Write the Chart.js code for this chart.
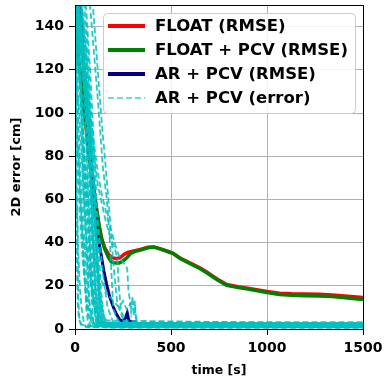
<!DOCTYPE html>
<html lang="en">
<head>
<meta charset="UTF-8">
<title>2D error over time</title>
<script src="https://cdn.jsdelivr.net/npm/chart.js"></script>
<style>
  html, body { margin: 0; padding: 0; background: #fff; }
  #wrap { width: 387px; height: 383px; }
</style>
</head>
<body>
<div id="wrap"><canvas id="errChart"></canvas></div>
<script>
// --- data (time in s, error in cm) ---
const floatT = [5, 16, 26, 40, 55, 70, 85, 100, 113, 125, 138, 155, 175, 195, 215, 235, 255, 275, 300, 340, 380, 410, 440, 480, 510, 545, 600, 650, 686, 740, 790, 850, 900, 1000, 1065, 1130, 1200, 1270, 1340, 1420, 1500];
const floatY = [160, 126, 120, 108, 96, 84, 73, 63, 55, 48, 42, 37.5, 34.5, 33, 32.5, 33, 34.5, 35.5, 36, 36.8, 37.8, 38, 37.2, 36, 35, 33, 30.5, 28.3, 26.4, 23.2, 20.6, 19.6, 18.9, 17.4, 16.6, 16.3, 16.2, 16.1, 15.8, 15.2, 14.6];

const floatPcvT = [5, 16, 26, 40, 55, 70, 85, 100, 113, 125, 138, 155, 175, 190, 210, 230, 250, 270, 290, 310, 340, 380, 410, 440, 480, 510, 545, 600, 650, 686, 740, 790, 850, 900, 1000, 1065, 1130, 1200, 1270, 1340, 1420, 1500];
const floatPcvY = [160, 126, 120, 108, 96, 84, 73, 63, 55, 48, 42, 37, 33, 31, 30.5, 30.5, 31.5, 33, 35, 35.8, 36.5, 37.6, 38, 37.2, 36, 35, 32.8, 30.2, 28, 26, 22.8, 20.2, 19.2, 18.5, 16.9, 16, 15.6, 15.4, 15.3, 15, 14.4, 13.6];

const arPcvT = [20, 35, 50, 61, 68, 80, 100, 113, 125, 138, 150, 164, 180, 199, 215, 234, 250, 262, 272, 280, 290, 305, 320];
const arPcvY = [160, 138, 115, 102, 96, 80, 58, 46, 40, 33.5, 27, 21, 15, 10.3, 7, 4.2, 3.5, 5, 7.5, 4, 3.4, 3.5, 3.4];

// individual runs, AR + PCV error
const run01T = [0, 5, 10, 14, 18, 24, 35, 60, 120, 300, 700, 1100, 1500];
const run01Y = [170, 120, 70, 35, 12, 4, 2, 1.5, 1.2, 1, 1.1, 1, 1];
const run02T = [0, 8, 15, 22, 30, 38, 45, 55, 70, 100, 300, 800, 1500];
const run02Y = [165, 150, 138, 125, 110, 85, 55, 30, 10, 2.5, 2, 2.2, 2];
const run03T = [0, 10, 20, 30, 40, 50, 60, 70, 80, 90, 110, 200, 600, 1500];
const run03Y = [175, 152, 140, 128, 118, 100, 82, 60, 35, 15, 3, 0.8, 0.7, 0.6];
const run04T = [0, 12, 25, 35, 48, 58, 68, 78, 90, 105, 130, 400, 1500];
const run04Y = [170, 158, 145, 136, 125, 110, 95, 72, 45, 20, 1.5, 1.3, 1.5];
const run05T = [0, 30, 55, 78, 95, 120, 145, 166, 182, 192, 200, 230, 500, 1500];
const run05Y = [200, 180, 165, 150, 132, 105, 75, 60, 40, 22, 9, 3, 3.2, 3.2];
const run06T = [0, 40, 70, 93, 110, 125, 140, 155, 170, 185, 200, 220, 260, 1500];
const run06Y = [210, 185, 165, 150, 130, 112, 95, 80, 64, 48, 30, 12, 2, 2.5];
const run07T = [0, 15, 30, 45, 60, 75, 90, 105, 120, 140, 160, 185, 205, 220, 228, 240, 280, 1500];
const run07Y = [160, 150, 140, 128, 112, 100, 88, 76, 66, 58, 50, 42, 38, 33, 20, 8, 1.8, 1.8];
const run08T = [0, 20, 40, 60, 80, 100, 120, 140, 160, 180, 200, 220, 240, 258, 272, 278, 285, 292, 300, 306, 312, 318, 325, 340, 1500];
const run08Y = [155, 140, 128, 115, 100, 85, 72, 62, 55, 48, 42, 36, 32, 30, 28, 18, 14, 8, 15, 6, 13, 5, 3, 1.5, 1.4];
const run09T = [0, 10, 22, 34, 46, 56, 66, 76, 86, 96, 108, 125, 150, 170, 190, 210, 230, 250, 270, 290, 310, 320, 330, 1500];
const run09Y = [155, 140, 120, 100, 88, 72, 60, 52, 45, 38, 30, 25, 20, 16, 14, 12, 10, 13, 9, 12, 10, 4, 2.2, 2.2];
const run10T = [0, 6, 12, 20, 28, 38, 50, 65, 80, 100, 130, 170, 210, 1500];
const run10Y = [160, 130, 100, 80, 60, 45, 38, 30, 22, 12, 6, 2, 0.9, 0.9];
const run11T = [0, 5, 10, 16, 22, 30, 40, 50, 62, 75, 90, 110, 140, 180, 1500];
const run11Y = [150, 142, 128, 112, 100, 88, 70, 55, 40, 28, 18, 9, 3, 1.1, 1.1];
const run12T = [0, 8, 16, 24, 32, 40, 48, 56, 64, 72, 80, 95, 115, 160, 1500];
const run12Y = [180, 160, 140, 122, 106, 95, 80, 66, 50, 38, 25, 12, 4, 0.6, 0.6];
const run13T = [0, 4, 9, 14, 20, 26, 33, 40, 48, 58, 70, 85, 110, 1500];
const run13Y = [140, 110, 90, 75, 62, 52, 42, 32, 24, 16, 8, 3, 1.3, 1.3];
const run14T = [0, 10, 20, 30, 40, 50, 60, 70, 80, 90, 100, 112, 125, 140, 160, 1500];
const run14Y = [190, 170, 152, 140, 125, 115, 104, 92, 80, 70, 55, 38, 20, 8, 1.6, 1.7];
const run15T = [0, 12, 24, 36, 48, 60, 72, 84, 96, 108, 120, 135, 150, 170, 200, 1500];
const run15Y = [175, 165, 150, 138, 125, 112, 98, 85, 72, 60, 48, 35, 22, 10, 2.8, 2.8];
const run16T = [0, 3, 6, 10, 14, 20, 30, 45, 70, 1500];
const run16Y = [150, 100, 60, 30, 12, 5, 2, 1.5, 0.8, 0.8];
const run17T = [0, 7, 14, 21, 28, 35, 42, 50, 58, 66, 76, 88, 100, 120, 1500];
const run17Y = [185, 165, 148, 135, 120, 105, 92, 78, 64, 52, 40, 26, 12, 2.4, 2.4];
const run18T = [0, 15, 30, 45, 55, 65, 75, 85, 95, 105, 115, 130, 150, 175, 1500];
const run18Y = [160, 145, 130, 118, 108, 96, 84, 70, 58, 44, 30, 16, 6, 1.9, 2.0];
const run19T = [0, 4, 8, 12, 16, 20, 25, 30, 36, 42, 50, 60, 75, 100, 1500];
const run19Y = [155, 148, 150, 140, 142, 130, 126, 112, 108, 90, 70, 40, 12, 1.5, 1.5];
const run20T = [0, 5, 10, 15, 20, 26, 32, 38, 44, 50, 56, 62, 70, 80, 95, 1500];
const run20Y = [168, 160, 162, 150, 146, 140, 135, 128, 125, 112, 98, 80, 55, 25, 3, 1.0];
const run21T = [0, 6, 12, 18, 24, 30, 36, 42, 48, 54, 60, 66, 72, 80, 90, 110, 1500];
const run21Y = [150, 152, 145, 148, 140, 142, 135, 130, 124, 118, 105, 92, 76, 52, 24, 2, 1.7];
const run22T = [0, 3, 7, 11, 15, 19, 23, 28, 34, 40, 48, 58, 70, 1500];
const run22Y = [130, 118, 122, 105, 108, 92, 86, 74, 62, 46, 28, 10, 1.2, 1.2];
const run23T = [0, 10, 20, 30, 40, 50, 60, 66, 72, 78, 85, 95, 110, 130, 1500];
const run23Y = [160, 155, 150, 152, 147, 140, 128, 118, 104, 88, 62, 30, 8, 2.5, 2.6];
const run24T = [0, 8, 16, 24, 32, 40, 48, 56, 64, 72, 80, 88, 96, 105, 120, 1500];
const run24Y = [150, 145, 140, 132, 128, 120, 112, 108, 96, 88, 74, 58, 40, 18, 3, 2.1];
const run25T = [0, 4, 8, 13, 18, 24, 30, 38, 46, 55, 65, 80, 1500];
const run25Y = [110, 95, 98, 80, 84, 66, 58, 42, 30, 18, 8, 1.4, 1.4];
const run26T = [0, 5, 10, 15, 20, 25, 30, 35, 40, 46, 52, 60, 70, 85, 1500];
const run26Y = [160, 140, 144, 126, 120, 110, 104, 92, 84, 70, 56, 38, 18, 2, 1.8];
const run27T = [0, 12, 24, 36, 48, 60, 68, 76, 84, 92, 100, 108, 118, 130, 150, 1500];
const run27Y = [180, 172, 166, 160, 150, 138, 126, 112, 96, 82, 66, 48, 28, 10, 1.6, 1.6];
const run28T = [0, 3, 6, 9, 12, 16, 20, 26, 34, 44, 56, 1500];
const run28Y = [90, 70, 74, 52, 56, 38, 30, 18, 10, 4, 1, 0.9];
const run29T = [0, 15, 30, 42, 54, 64, 74, 84, 94, 104, 114, 126, 140, 1500];
const run29Y = [190, 170, 152, 140, 126, 112, 100, 86, 72, 56, 38, 18, 3, 1.3];
const run30T = [0, 20, 36, 50, 62, 72, 82, 92, 100, 108, 118, 132, 1500];
const run30Y = [185, 160, 145, 132, 118, 102, 88, 72, 60, 44, 24, 4, 2.3];
const run31T = [0, 10, 22, 34, 46, 58, 70, 80, 90, 98, 106, 116, 128, 145, 1500];
const run31Y = [200, 180, 162, 150, 140, 128, 116, 102, 86, 70, 54, 36, 16, 2, 1.9];
const run32T = [0, 25, 45, 60, 70, 80, 88, 96, 104, 112, 122, 135, 155, 1500];
const run32Y = [200, 175, 160, 146, 132, 118, 104, 90, 76, 60, 40, 18, 2.5, 2.7];
const run33T = [0, 18, 32, 44, 52, 60, 68, 76, 86, 98, 112, 130, 1500];
const run33Y = [170, 150, 135, 126, 116, 108, 96, 82, 66, 48, 26, 3, 1.0];
const run34T = [0, 14, 26, 38, 48, 56, 64, 72, 82, 94, 108, 125, 1500];
const run34Y = [160, 148, 134, 124, 112, 100, 90, 78, 62, 44, 22, 2, 0.7];

const runs = [
  [run01T, run01Y], [run02T, run02Y], [run03T, run03Y], [run04T, run04Y],
  [run05T, run05Y], [run06T, run06Y], [run07T, run07Y], [run08T, run08Y],
  [run09T, run09Y], [run10T, run10Y], [run11T, run11Y], [run12T, run12Y],
  [run13T, run13Y], [run14T, run14Y], [run15T, run15Y], [run16T, run16Y],
  [run17T, run17Y], [run18T, run18Y], [run19T, run19Y], [run20T, run20Y],
  [run21T, run21Y], [run22T, run22Y], [run23T, run23Y], [run24T, run24Y],
  [run25T, run25Y], [run26T, run26Y], [run27T, run27Y], [run28T, run28Y],
  [run29T, run29Y], [run30T, run30Y], [run31T, run31Y], [run32T, run32Y],
  [run33T, run33Y], [run34T, run34Y]
];

const xTicks = [0, 500, 1000, 1500];
const yTicks = [0, 20, 40, 60, 80, 100, 120, 140];

const FONT = "'DejaVu Sans', sans-serif";
const CYAN = 'rgba(0, 191, 191, 0.85)';

function pts(ts, ys) {
  return ts.map((t, i) => ({ x: t, y: ys[i] }));
}

const datasets = [];
runs.forEach(r => {
  datasets.push({
    label: 'AR + PCV (error)',
    data: pts(r[0], r[1]),
    borderColor: CYAN,
    borderWidth: 1.8,
    borderDash: [6, 3],
    pointRadius: 0,
    order: 0
  });
});
datasets.push({
  label: 'AR + PCV (RMSE)', data: pts(arPcvT, arPcvY),
  borderColor: '#000080', borderWidth: 3, pointRadius: 0, order: 1
});
datasets.push({
  label: 'FLOAT + PCV (RMSE)', data: pts(floatPcvT, floatPcvY),
  borderColor: '#008000', borderWidth: 3.5, pointRadius: 0, order: 2
});
datasets.push({
  label: 'FLOAT (RMSE)', data: pts(floatT, floatY),
  borderColor: '#ff0000', borderWidth: 3.5, pointRadius: 0, order: 3
});

const legendItems = [
  { text: 'FLOAT (RMSE)', color: '#ff0000', width: 4, dash: [] },
  { text: 'FLOAT + PCV (RMSE)', color: '#008000', width: 4, dash: [] },
  { text: 'AR + PCV (RMSE)', color: '#000080', width: 4, dash: [] },
  { text: 'AR + PCV (error)', color: 'rgba(0, 191, 191, 0.75)', width: 1.5, dash: [6, 3] }
];

// frame around the plot + legend box inside the plot
const framePlugin = {
  id: 'frameAndLegend',
  afterDraw(chart) {
    const { ctx, chartArea: a } = chart;
    ctx.save();
    ctx.strokeStyle = '#000';
    ctx.lineWidth = 1;
    ctx.strokeRect(a.left + 0.5, a.top + 0.5, a.right - a.left, a.bottom - a.top);

    const bx = a.left + 28, by = a.top + 8, bw = a.right - a.left - 36, bh = 100;
    ctx.beginPath();
    ctx.roundRect(bx + 0.5, by + 0.5, bw, bh, 4);
    ctx.fillStyle = 'rgba(255,255,255,0.85)';
    ctx.fill();
    ctx.strokeStyle = '#cccccc';
    ctx.stroke();

    ctx.font = 'bold 16.5px ' + FONT;
    ctx.textBaseline = 'middle';
    ctx.fillStyle = '#000';
    legendItems.forEach((it, i) => {
      const yy = by + 13 + i * 24;
      ctx.beginPath();
      ctx.setLineDash(it.dash);
      ctx.strokeStyle = it.color;
      ctx.lineWidth = it.width;
      ctx.moveTo(bx + 5, yy);
      ctx.lineTo(bx + 42, yy);
      ctx.stroke();
      ctx.setLineDash([]);
      ctx.fillText(it.text, bx + 52, yy + 1);
    });
    ctx.restore();
  }
};

new Chart(document.getElementById('errChart'), {
  type: 'line',
  data: { datasets: datasets },
  options: {
    responsive: true,
    maintainAspectRatio: false,
    animation: false,
    events: [],
    layout: { padding: { top: 5, right: 24, left: 0, bottom: 0 } },
    plugins: { legend: { display: false }, tooltip: { enabled: false } },
    elements: { line: { tension: 0 } },
    scales: {
      x: {
        type: 'linear', min: 0, max: 1500,
        afterFit(s) { s.height = 54; s.paddingLeft = 0; s.paddingRight = 0; },
        afterBuildTicks(s) { s.ticks = xTicks.map(v => ({ value: v })); },
        ticks: { font: { family: FONT, size: 14, weight: 'bold' }, color: '#000', padding: 5, maxRotation: 0, callback: v => String(v) },
        grid: { color: '#b0b0b0', lineWidth: 1, tickColor: '#000', tickLength: 6 },
        border: { display: false },
        title: { display: true, text: 'time [s]', color: '#000', font: { family: FONT, size: 12.5, weight: 'bold' }, padding: { top: 0, bottom: 5 } }
      },
      y: {
        type: 'linear', min: 0, max: 150,
        afterFit(s) { s.width = 75; s.paddingTop = 0; s.paddingBottom = 0; },
        afterBuildTicks(s) { s.ticks = yTicks.map(v => ({ value: v })); },
        ticks: { font: { family: FONT, size: 14, weight: 'bold' }, color: '#000', padding: 5, callback: v => String(v) },
        grid: { color: '#b0b0b0', lineWidth: 1, tickColor: '#000', tickLength: 6 },
        border: { display: false },
        title: { display: true, text: '2D error [cm]', color: '#000', font: { family: FONT, size: 13, weight: 'bold' }, padding: { top: 9, bottom: 0 } }
      }
    }
  },
  plugins: [framePlugin]
});
</script>
</body>
</html>
